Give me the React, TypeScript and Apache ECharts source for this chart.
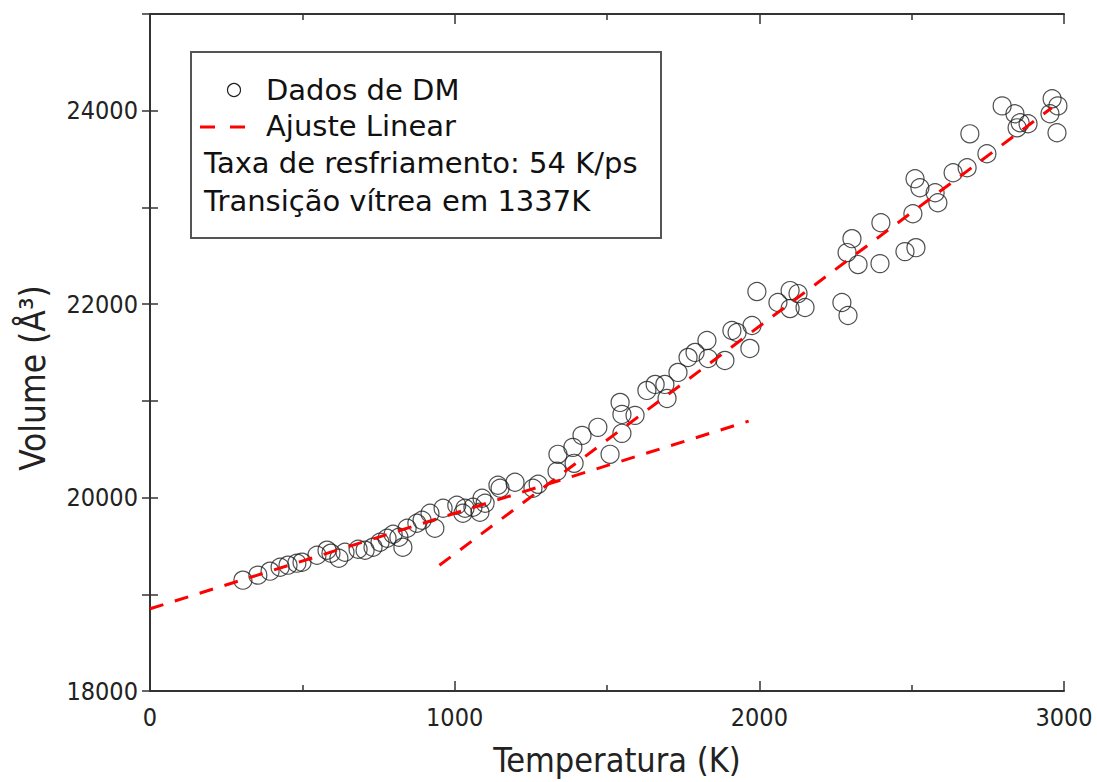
import React, { useEffect, useRef } from "react";
import * as echarts from "echarts";

// Molecular dynamics data (Temperature K, Volume Å³)
const temps: number[] = [
  305, 354, 394, 427, 453, 482, 499, 548, 581, 594, 620, 640, 683, 706, 732, 755,
  778, 798, 817, 830, 844, 876, 893, 935, 919, 962, 1007, 1034, 1060, 1027, 1090,
  1100, 1083, 1142, 1149, 1198, 1257, 1274, 1336, 1339, 1388, 1392, 1418, 1470,
  1510, 1543, 1549, 1549, 1592, 1631, 1658, 1690, 1697, 1733, 1766, 1789, 1828,
  1832, 1887, 1910, 1927, 1976, 1969, 1992, 2061, 2101, 2127, 2101, 2150, 2271,
  2291, 2304, 2288, 2324, 2396, 2399, 2478, 2514, 2504, 2511, 2527, 2577, 2586,
  2636, 2682, 2691, 2747, 2797, 2839, 2846, 2856, 2882, 2961, 2980, 2954, 2977,
];
const volumes: number[] = [
  19146, 19198, 19239, 19280, 19301, 19322, 19332, 19404, 19456, 19425, 19373,
  19435, 19466, 19456, 19487, 19538, 19580, 19621, 19590, 19487, 19683, 19735,
  19766, 19683, 19838, 19889, 19920, 19889, 19900, 19838, 19993, 19941, 19848,
  20127, 20096, 20158, 20096, 20137, 20272, 20447, 20519, 20354, 20643, 20726,
  20447, 20984, 20860, 20664, 20850, 21108, 21170, 21170, 21025, 21294, 21449,
  21501, 21624, 21438, 21418, 21728, 21707, 21779, 21542, 22130, 22017, 22140,
  22109, 21954, 21965, 22017, 21882, 22677, 22533, 22409, 22419, 22842, 22543,
  22584, 22935, 23297, 23204, 23152, 23049, 23359, 23410, 23761, 23555, 24050,
  23968, 23823, 23875, 23865, 24123, 24050, 23968, 23772,
];

// Linear fits (endpoints)
const glassFitT: number[] = [0, 1965];
const glassFitV: number[] = [18850, 20790];
const liquidFitT: number[] = [950, 2960];
const liquidFitV: number[] = [19300, 24030];

const xTicks = { min: 0, max: 3000, interval: 1000 };
const yTicks = { min: 18000, max: 25000, interval: 1000, labelEvery: 2000 };

const xTitle = "Temperatura (K)";
const yTitle = "Volume (Å³)";
const legendLabels = ["Dados de DM", "Ajuste Linear"];
const infoLines = ["Taxa de resfriamento: 54 K/ps", "Transição vítrea em 1337K"];

const AXIS_FONT = "'Liberation Sans Narrow', 'DejaVu Sans Condensed', 'Liberation Sans', Arial, sans-serif";
const LEGEND_FONT = "'DejaVu Sans', 'Liberation Sans', sans-serif";

export default function App() {
  const ref = useRef<HTMLDivElement>(null);

  useEffect(() => {
    if (!ref.current) return;
    const chart = echarts.init(ref.current, undefined, { renderer: "svg" });

    const scatterData = temps.map((t, i) => [t, volumes[i]]);
    const glassData = glassFitT.map((t, i) => [t, glassFitV[i]]);
    const liquidData = liquidFitT.map((t, i) => [t, liquidFitV[i]]);

    const axisLine = { show: true, lineStyle: { color: "#333", width: 2 } };
    const tickStyle = { color: "#333", width: 1.5 };

    const fitStyle = {
      color: "#ff0000",
      width: 3,
      type: [14, 12] as number[],
    };

    const legendText = (text: string, x: number, y: number) => ({
      type: "text",
      x,
      y,
      style: { text, font: `29px ${LEGEND_FONT}`, fill: "#111", verticalAlign: "middle" },
    });

    chart.setOption({
      animation: false,
      backgroundColor: "#ffffff",
      grid: { left: 150, top: 14, width: 914, height: 677, containLabel: false },
      xAxis: [
        {
          type: "value",
          min: xTicks.min,
          max: xTicks.max,
          interval: xTicks.interval,
          axisLine,
          axisTick: { show: true, inside: true, length: 10, lineStyle: tickStyle },
          minorTick: { show: true, splitNumber: 2, length: 6, lineStyle: tickStyle },
          splitLine: { show: false },
          axisLabel: {
            fontFamily: AXIS_FONT,
            fontSize: 25,
            color: "#222",
            margin: 14,
            formatter: (v: number) => String(v),
          },
        },
        {
          type: "value",
          position: "top",
          min: xTicks.min,
          max: xTicks.max,
          interval: xTicks.interval,
          axisLine,
          axisTick: { show: true, inside: true, length: 10, lineStyle: tickStyle },
          minorTick: { show: true, splitNumber: 2, length: 6, lineStyle: tickStyle },
          splitLine: { show: false },
          axisLabel: { show: false },
        },
      ],
      yAxis: [
        {
          type: "value",
          min: yTicks.min,
          max: yTicks.max,
          interval: yTicks.interval,
          axisLine,
          axisTick: { show: true, inside: true, length: 8, lineStyle: tickStyle },
          splitLine: { show: false },
          axisLabel: {
            fontFamily: AXIS_FONT,
            fontSize: 25,
            color: "#222",
            margin: 12,
            formatter: (v: number) => (v % yTicks.labelEvery === 0 && v < yTicks.max ? String(v) : ""),
          },
        },
        {
          type: "value",
          position: "right",
          min: yTicks.min,
          max: yTicks.max,
          interval: yTicks.interval,
          axisLine,
          axisTick: { show: true, inside: true, length: 8, lineStyle: tickStyle },
          splitLine: { show: false },
          axisLabel: { show: false },
        },
      ],
      series: [
        {
          name: legendLabels[0],
          type: "scatter",
          data: scatterData,
          symbol: "circle",
          symbolSize: 18,
          itemStyle: { color: "rgba(255,255,255,0)", borderColor: "#222", borderWidth: 1.2 },
          z: 2,
        },
        {
          name: legendLabels[1],
          type: "line",
          data: glassData,
          showSymbol: false,
          symbol: "none",
          lineStyle: fitStyle,
          z: 3,
        },
        {
          name: legendLabels[1] + " 2",
          type: "line",
          data: liquidData,
          showSymbol: false,
          symbol: "none",
          lineStyle: fitStyle,
          z: 3,
        },
      ],
      graphic: [
        {
          type: "text",
          x: 617,
          y: 760,
          style: {
            text: xTitle,
            font: `34px ${AXIS_FONT}`,
            fill: "#222",
            align: "center",
            verticalAlign: "middle",
          },
        },
        {
          type: "text",
          x: 33,
          y: 378,
          rotation: Math.PI / 2,
          style: {
            text: yTitle,
            font: `35px ${AXIS_FONT}`,
            fill: "#222",
            align: "center",
            verticalAlign: "middle",
          },
        },
        {
          type: "group",
          x: 191,
          y: 52,
          z: 10,
          children: [
            {
              type: "rect",
              shape: { x: 0, y: 0, width: 470, height: 186 },
              style: { fill: "#fff", stroke: "#555", lineWidth: 2 },
            },
            {
              type: "circle",
              shape: { cx: 43, cy: 38, r: 6.5 },
              style: { fill: "#fff", stroke: "#222", lineWidth: 1.2 },
            },
            {
              type: "line",
              shape: { x1: 9, y1: 75, x2: 24, y2: 75 },
              style: { stroke: "#ff0000", lineWidth: 3 },
            },
            {
              type: "line",
              shape: { x1: 39, y1: 75, x2: 54, y2: 75 },
              style: { stroke: "#ff0000", lineWidth: 3 },
            },
            legendText(legendLabels[0], 75, 38),
            legendText(legendLabels[1], 75, 74),
            legendText(infoLines[0], 13, 111),
            legendText(infoLines[1], 13, 149),
          ],
        },
      ],
    });

    return () => chart.dispose();
  }, []);

  return (
    <div
      ref={ref}
      style={{ position: "fixed", left: 0, top: 0, width: 1097, height: 782, background: "#fff" }}
    />
  );
}
